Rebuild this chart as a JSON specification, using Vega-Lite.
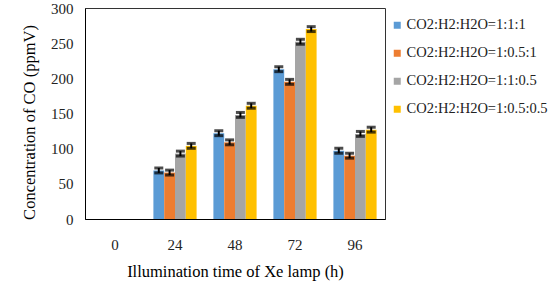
{
  "$schema": "https://vega.github.io/schema/vega-lite/v6.json",
  "width": 300,
  "height": 211,
  "autosize": {"type": "none"},
  "padding": {"left": 85, "top": 8, "right": 170, "bottom": 70},
  "background": "white",
  "config": {
    "view": {"stroke": "#333", "strokeWidth": 1},
    "font": "Liberation Serif",
    "axisY": {
      "labelOverlap": false,
      "grid": false,
      "ticks": false,
      "domainColor": "#000",
      "labelFont": "Liberation Serif",
      "labelFontSize": 15,
      "labelColor": "#222",
      "labelPadding": 12,
      "titleFont": "Liberation Serif",
      "titleFontSize": 16.5,
      "titleFontWeight": "normal",
      "titleColor": "#000",
      "titlePadding": 13,
      "titleY": 114
    }
  },
  "data": {
    "values": [
      {"time": "24", "series": "CO2:H2:H2O=1:1:1", "value": 69, "err": 3.5},
      {"time": "24", "series": "CO2:H2:H2O=1:0.5:1", "value": 66, "err": 3.5},
      {"time": "24", "series": "CO2:H2:H2O=1:1:0.5", "value": 93, "err": 3.5},
      {"time": "24", "series": "CO2:H2:H2O=1:0.5:0.5", "value": 104, "err": 3.5},
      {"time": "48", "series": "CO2:H2:H2O=1:1:1", "value": 122, "err": 3.5},
      {"time": "48", "series": "CO2:H2:H2O=1:0.5:1", "value": 109, "err": 3.5},
      {"time": "48", "series": "CO2:H2:H2O=1:1:0.5", "value": 148, "err": 3.5},
      {"time": "48", "series": "CO2:H2:H2O=1:0.5:0.5", "value": 161, "err": 3.5},
      {"time": "72", "series": "CO2:H2:H2O=1:1:1", "value": 213, "err": 3.5},
      {"time": "72", "series": "CO2:H2:H2O=1:0.5:1", "value": 195, "err": 3.5},
      {"time": "72", "series": "CO2:H2:H2O=1:1:0.5", "value": 252, "err": 3.5},
      {"time": "72", "series": "CO2:H2:H2O=1:0.5:0.5", "value": 270, "err": 3.5},
      {"time": "96", "series": "CO2:H2:H2O=1:1:1", "value": 97, "err": 3.5},
      {"time": "96", "series": "CO2:H2:H2O=1:0.5:1", "value": 90, "err": 3.5},
      {"time": "96", "series": "CO2:H2:H2O=1:1:0.5", "value": 121, "err": 3.5},
      {"time": "96", "series": "CO2:H2:H2O=1:0.5:0.5", "value": 127, "err": 3.5}
    ]
  },
  "transform": [
    {"calculate": "datum.value - datum.err", "as": "lo"},
    {"calculate": "datum.value + datum.err", "as": "hi"}
  ],
  "encoding": {
    "x": {
      "field": "time",
      "type": "nominal",
      "sort": null,
      "scale": {"domain": ["0", "24", "48", "72", "96"], "paddingInner": 0.28, "paddingOuter": 0.14},
      "axis": {
        "title": "Illumination time of Xe lamp (h)",
        "labelAngle": 0,
        "ticks": false,
        "domainColor": "#000",
        "labelFont": "Liberation Serif",
        "labelFontSize": 15,
        "labelColor": "#222",
        "labelPadding": 18,
        "titleFont": "Liberation Serif",
        "titleFontSize": 16.5,
        "titleFontWeight": "normal",
        "titleColor": "#000",
        "titlePadding": 11
      }
    },
    "xOffset": {
      "field": "series",
      "type": "nominal",
      "scale": {"domain": ["CO2:H2:H2O=1:1:1", "CO2:H2:H2O=1:0.5:1", "CO2:H2:H2O=1:1:0.5", "CO2:H2:H2O=1:0.5:0.5"], "paddingInner": 0, "paddingOuter": 0}
    }
  },
  "layer": [
    {
      "mark": {"type": "bar"},
      "encoding": {
        "y": {
          "field": "value",
          "type": "quantitative",
          "scale": {"domain": [0, 300], "nice": false},
          "axis": {"title": "Concentration of CO (ppmV)", "values": [0, 50, 100, 150, 200, 250, 300], "labelOverlap": false}
        },
        "color": {
          "field": "series",
          "type": "nominal",
          "scale": {
            "domain": ["CO2:H2:H2O=1:1:1", "CO2:H2:H2O=1:0.5:1", "CO2:H2:H2O=1:1:0.5", "CO2:H2:H2O=1:0.5:0.5"],
            "range": ["#5B9BD5", "#ED7D31", "#A5A5A5", "#FFC000"]
          },
          "legend": {
            "title": null,
            "orient": "none",
            "legendX": 305,
            "legendY": 10,
            "padding": 0,
            "symbolType": "square",
            "symbolSize": 49,
            "symbolStrokeWidth": 0,
            "labelFont": "Liberation Serif",
            "labelFontSize": 14.5,
            "labelColor": "#222",
            "labelOffset": 2,
            "rowPadding": 13
          }
        }
      }
    },
    {
      "mark": {"type": "rule", "color": "#000", "strokeWidth": 2},
      "encoding": {
        "y": {"field": "lo", "type": "quantitative", "axis": {"title": "Concentration of CO (ppmV)", "values": [0, 50, 100, 150, 200, 250, 300], "labelOverlap": false}},
        "y2": {"field": "hi"}
      }
    },
    {
      "mark": {"type": "tick", "color": "#000", "thickness": 3, "width": 9},
      "encoding": {"y": {"field": "lo", "type": "quantitative", "axis": {"title": "Concentration of CO (ppmV)", "values": [0, 50, 100, 150, 200, 250, 300], "labelOverlap": false}}}
    },
    {
      "mark": {"type": "tick", "color": "#000", "thickness": 3, "width": 9},
      "encoding": {"y": {"field": "hi", "type": "quantitative", "axis": {"title": "Concentration of CO (ppmV)", "values": [0, 50, 100, 150, 200, 250, 300], "labelOverlap": false}}}
    }
  ]
}
